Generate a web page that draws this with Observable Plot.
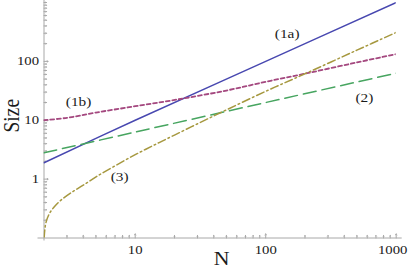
<!DOCTYPE html>
<html>
<head>
<meta charset="utf-8">
<script src="https://cdn.jsdelivr.net/npm/d3@7"></script>
<script src="https://cdn.jsdelivr.net/npm/@observablehq/plot@0.6"></script>
<style>
  html, body { margin: 0; padding: 0; background: #fff; }
</style>
</head>
<body>
<div id="chart"></div>
<script>
// Series (1a)
const N_1a = [2, 10, 100, 1000];
const size_1a = [1.9, 10, 100, 1000];
// Series (1b)
const N_1b = [2, 3, 5, 10, 21, 50, 100, 208, 500, 1000];
const size_1b = [10, 11, 13.5, 17.3, 22.5, 32, 45, 63, 96, 133];
// Series (2)
const N_2 = [2, 10, 100, 1000];
const size_2 = [2.8, 6.3, 20, 63];
// Series (3)
const N_3 = [2.005, 2.03, 2.08, 2.2, 2.4, 2.7, 3.2, 4, 5.1, 7, 10, 14, 20, 31.6, 50, 100, 208, 500, 1000];
const size_3 = [0.1, 0.14, 0.19, 0.26, 0.34, 0.44, 0.58, 0.79, 1.12, 1.68, 2.6, 3.8, 5.6, 9.2, 15, 31, 64, 155, 310];

// Curve labels
const labels = ["(1a)", "(1b)", "(2)", "(3)"];
const labelN = [146, 3.68, 570, 7.6];
const labelSize = [298, 20.2, 24.5, 1.08];

// Ticks
const xMajor = [10, 100, 1000];
const xMinor = [3,4,5,6,7,8,9,20,30,40,50,60,70,80,90,200,300,400,500,600,700,800,900];
const yMajor = [1, 10, 100];
const yMinor = [0.2,0.3,0.4,0.5,0.6,0.7,0.8,0.9,2,3,4,5,6,7,8,9,20,30,40,50,60,70,80,90,200,300,400,500,600,700,800,900,1000];

const series = [
  {N: N_1a, s: size_1a, color: "#4848b0", dash: null, w: 1.5},
  {N: N_1b, s: size_1b, color: "#a4487f", dash: "3.8,2.7", w: 1.8},
  {N: N_2,  s: size_2,  color: "#47a560", dash: "13,6", w: 1.5},
  {N: N_3,  s: size_3,  color: "#a6983f", dash: "8,3,1.6,3", w: 1.5}
];
const tbl = (N, s) => N.map((n, i) => ({N: n, S: s[i]}));
const labelData = labels.map((t, i) => ({t, N: labelN[i], S: labelSize[i]}));

const axisColor = "#a8a8a8";
const textColor = "#1a1a1a";

const marks = [];
// axis lines
marks.push(Plot.ruleY([0.1], {stroke: axisColor, strokeWidth: 1, insetLeft: -6, insetRight: -6}));
marks.push(Plot.ruleX([2], {stroke: axisColor, strokeWidth: 1, insetTop: -2, insetBottom: -3}));
// ticks (inward)
marks.push(Plot.vector(xMajor, {x: d => d, y: () => 0.1, length: 4, anchor: "start", stroke: axisColor, strokeWidth: 1}));
marks.push(Plot.vector(xMinor, {x: d => d, y: () => 0.1, length: 2.5, anchor: "start", stroke: axisColor, strokeWidth: 1}));
marks.push(Plot.vector(yMajor, {x: () => 2, y: d => d, length: 4, rotate: 90, anchor: "start", stroke: axisColor, strokeWidth: 1}));
marks.push(Plot.vector(yMinor, {x: () => 2, y: d => d, length: 2.5, rotate: 90, anchor: "start", stroke: axisColor, strokeWidth: 1}));
// tick labels
marks.push(Plot.text(xMajor.slice(0, 2), {x: d => d, frameAnchor: "bottom", lineAnchor: "middle", textAnchor: "middle", dy: 11.5, text: d => String(d), fontSize: 12.5, fill: textColor}));
marks.push(Plot.text(xMajor.slice(2), {x: d => d, frameAnchor: "bottom", lineAnchor: "middle", textAnchor: "middle", dy: 11.5, dx: -3.5, text: d => String(d), fontSize: 12.5, fill: textColor}));
marks.push(Plot.text(yMajor, {y: d => d, frameAnchor: "left", lineAnchor: "middle", dx: -5, textAnchor: "end", text: d => String(d), fontSize: 12.5, fill: textColor}));
// axis titles
marks.push(Plot.text(["N"], {frameAnchor: "bottom", lineAnchor: "middle", textAnchor: "middle", dy: 21, dx: 1.5, text: d => d, fontSize: 18.5, fill: textColor}));
marks.push(Plot.text(["Size"], {frameAnchor: "left", lineAnchor: "middle", textAnchor: "middle", dx: -32.3, dy: -4.5, rotate: -90, text: d => d, fontSize: 19.5, fill: textColor}));
// curves
for (const sr of series) {
  marks.push(Plot.line(tbl(sr.N, sr.s), {
    x: "N", y: "S", stroke: sr.color, strokeWidth: sr.w,
    strokeDasharray: sr.dash, curve: "catmull-rom", clip: true
  }));
}
// curve labels
marks.push(Plot.text(labelData, {x: "N", y: "S", text: "t", fontSize: 13, fill: textColor}));

const svg = Plot.plot({
  width: 409,
  height: 268,
  marginLeft: 43.5,
  marginRight: 13.3,
  marginTop: 2,
  marginBottom: 30.5,
  style: {fontFamily: "'Liberation Serif', 'Times New Roman', serif", background: "#fff", overflow: "visible"},
  x: {type: "log", domain: [2, 1000], axis: null},
  y: {type: "log", domain: [0.1, 1000], axis: null},
  marks
});

// Reference glyphs are horizontally stretched; mimic it.
d3.select(svg).selectAll("text").each(function () {
  const t = this.getAttribute("transform") || "";
  if (t.includes("rotate")) this.setAttribute("transform", t.replace("rotate", "scale(1.18,1) rotate"));
  else this.setAttribute("transform", (t + " scale(1.18,1)").trim());
});

document.getElementById("chart").appendChild(svg);
</script>
</body>
</html>
